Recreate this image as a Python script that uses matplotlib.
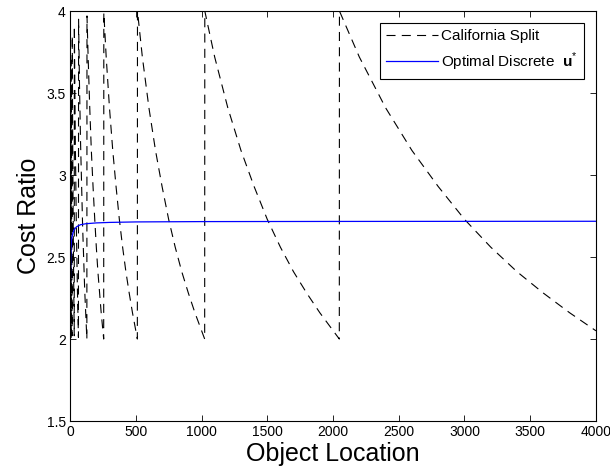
import matplotlib
matplotlib.use("Agg")
import matplotlib.pyplot as plt

plt.rcParams['font.family'] = ['Liberation Sans', 'DejaVu Sans']
plt.rcParams['mathtext.fontset'] = 'custom'
plt.rcParams['mathtext.bf'] = 'Liberation Sans:bold'
plt.rcParams['mathtext.rm'] = 'Liberation Sans'
plt.rcParams['lines.scale_dashes'] = False

# California Split
cs_x = [2, 3, 4,
        5, 6, 8,
        9, 12, 16,
        17, 20, 24, 28, 32,
        33, 40, 48, 56, 64,
        65, 72, 80, 96, 112, 128,
        129, 138, 150, 162, 175, 188, 200, 212, 225, 237, 256,
        257, 275, 300, 325, 350, 375, 400, 425, 450, 475, 512,
        513, 550, 600, 650, 700, 750, 800, 850, 900, 950, 1024,
        1025, 1100, 1200, 1300, 1400, 1500, 1600, 1700, 1800, 1900, 2048,
        2049, 2200, 2400, 2600, 2800, 3000, 3200, 3400, 3600, 3800, 4000]
cs_y = [3.0, 2.6, 2.0,
        3.5, 3.0, 2.0,
        3.7, 2.8, 2.02,
        3.85, 3.25, 2.72, 2.33, 2.02,
        3.91, 3.22, 2.69, 2.31, 2.01,
        3.95, 3.55, 3.2, 2.68, 2.29, 2.0,
        3.97, 3.71, 3.41, 3.15, 2.93, 2.73, 2.56, 2.41, 2.28, 2.16, 2.0,
        3.99, 3.72, 3.41, 3.15, 2.93, 2.73, 2.56, 2.41, 2.28, 2.16, 2.0,
        4.0, 3.72, 3.41, 3.15, 2.93, 2.73, 2.56, 2.41, 2.28, 2.16, 2.0,
        4.0, 3.72, 3.41, 3.15, 2.93, 2.73, 2.56, 2.41, 2.28, 2.16, 2.0,
        4.0, 3.72, 3.41, 3.15, 2.93, 2.73, 2.56, 2.41, 2.28, 2.16, 2.05]

# Optimal Discrete u*
opt_x = [1, 2, 3, 5, 8, 12, 20, 30, 50, 80, 120, 200, 300, 500, 1000, 2000, 4000]
opt_y = [1.83, 2.2, 2.35, 2.48, 2.56, 2.61, 2.64, 2.665, 2.685, 2.697, 2.703,
         2.708, 2.711, 2.714, 2.716, 2.717, 2.718]

fig = plt.figure(figsize=(6.10, 4.69), dpi=100)
ax = fig.add_axes([0.1148, 0.1023, 0.977 - 0.1148, 0.9765 - 0.1023])

ax.plot(cs_x, cs_y, color='black', lw=0.8, dashes=(6.5, 4.5), label='California Split')
ax.plot(opt_x, opt_y, color='#0000ff', lw=0.9, label=r'Optimal Discrete  $\mathbf{u}^{*}$')

ax.set_xlim(0, 4000)
ax.set_ylim(1.5, 4)
ax.set_xticks(range(0, 4001, 500))
ax.set_yticks([1.5, 2, 2.5, 3, 3.5, 4])
ax.set_yticklabels(['1.5', '2', '2.5', '3', '3.5', '4'])
ax.tick_params(direction='in', top=True, right=True, labelsize=10, length=4, width=0.6, pad=3)
for s in ax.spines.values():
    s.set_linewidth(0.8)

ax.set_xlabel('Object Location', fontsize=18)
ax.xaxis.set_label_coords(0.5, -0.052)
ax.set_ylabel('Cost Ratio', fontsize=18, labelpad=4)

leg = ax.legend(loc='upper right', fontsize=11, handlelength=3.4, fancybox=False,
                edgecolor='black', framealpha=1, borderaxespad=0.8,
                borderpad=0.4, labelspacing=0.45, handletextpad=0.2)
leg.get_frame().set_linewidth(0.8)

fig.savefig('out.png', dpi=100)
